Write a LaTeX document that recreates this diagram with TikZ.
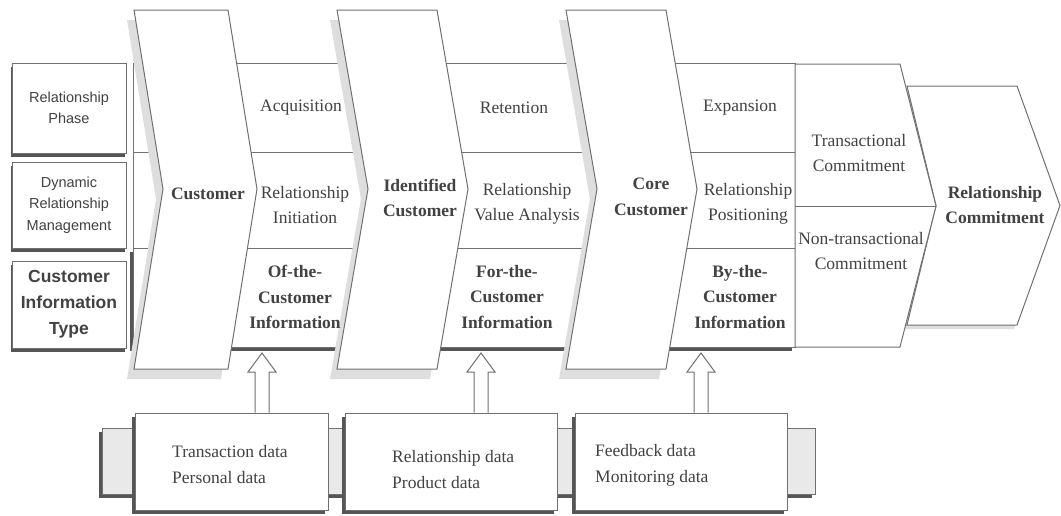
\documentclass[tikz,border=0pt]{standalone}
\usepackage{fontspec}
\setmainfont{Liberation Serif}
\setsansfont{Liberation Sans}
\usetikzlibrary{calc}

\definecolor{linegray}{RGB}{112,112,112}
\definecolor{textgray}{RGB}{66,66,66}
\definecolor{darkshade}{RGB}{85,85,85}
\definecolor{lightshade}{RGB}{222,222,222}
\definecolor{barfill}{RGB}{233,233,233}

\tikzset{
  outline/.style={draw=linegray, line width=1pt},
  chevshade/.style={preaction={fill=lightshade, draw=none, transform canvas={shift={(-7pt,-10pt)}}}},
  hardshadow/.style={preaction={fill=darkshade, draw=none, transform canvas={shift={(-3pt,-4pt)}}}},
  baseshadow/.style={preaction={fill=darkshade, draw=none, transform canvas={shift={(-1pt,-3.5pt)}}}},
  celltext/.style={text=textgray, align=center, inner sep=0pt, font=\fontsize{17.5}{25.5}\selectfont},
  chevtext/.style={celltext, font=\bfseries\fontsize{17.5}{25.5}\selectfont},
  labelbox/.style={outline, fill=white, baseshadow, text=textgray, align=center, minimum width=114pt, font=\sffamily\fontsize{14.5}{21.5}\selectfont},
  databox/.style={outline, fill=white, hardshadow, minimum height=97pt},
  datatext/.style={text=textgray, align=left, inner sep=0pt, anchor=west, font=\fontsize{17.5}{26}\selectfont},
  feedline/.style={outline, fill=white}
}

\begin{document}
\begin{tikzpicture}[x=1pt, y=-1pt]
\useasboundingbox (0,0) rectangle (1061,515);

% left labels
\node[labelbox, minimum height=90pt] (phase) at (69,108) {Relationship\\Phase};
\node[labelbox, minimum height=86pt] (drm) at (69,205) {Dynamic\\Relationship\\Management};
\node[labelbox, minimum height=87pt, font=\sffamily\bfseries\fontsize{17.5}{26}\selectfont] (cit) at (69,304.5) {Customer\\Information\\Type};

% rows
\draw[outline, fill=white] (133,63) rectangle (795,248);
\draw[outline] (133,152) -- (795,152);
\draw[outline, fill=white, hardshadow] (133,248) rectangle (795,347);

% commitment
\draw[outline, fill=white, preaction={fill=lightshade, draw=none, transform canvas={shift={(-3pt,-4pt)}}}] (907,86) -- (1017,86) -- (1060,205.5) -- (1017,325) -- (907,325) -- (936,205.5) -- cycle;
\draw[outline, fill=white] (795,64) -- (900,64) -- (936,206) -- (900,347) -- (795,347) -- cycle;
\draw[outline] (795,206) -- (936,206);

% chevrons
\draw[outline, fill=white, chevshade] (134,10) -- (228,10) -- (257,189) -- (228,369) -- (134,369) -- (163,189) -- cycle;
\draw[outline, fill=white, chevshade] (337,10) -- (437,10) -- (468,189) -- (437,369) -- (337,369) -- (368,189) -- cycle;
\draw[outline, fill=white, chevshade] (566,10) -- (666,10) -- (697,189) -- (666,369) -- (566,369) -- (597,189) -- cycle;

\node[chevtext] (cust) at (208,194) {Customer};
\node[chevtext] (idc) at (420,198) {Identified\\Customer};
\node[chevtext] (core) at (651,197) {Core\\Customer};
\node[chevtext] (relc) at (995,205) {Relationship\\Commitment};

\node[celltext] (acq) at (301,108) {Acquisition};
\node[celltext] (ret) at (514,108) {Retention};
\node[celltext] (exp) at (740,108) {Expansion};
\node[celltext] (ini) at (305,205) {Relationship\\Initiation};
\node[celltext] (rva) at (527,204) {Relationship\\Value Analysis};
\node[celltext] (pos) at (748,204) {Relationship\\Positioning};
\node[chevtext] (ofc) at (295,297) {Of-the-\\Customer\\Information};
\node[chevtext] (foc) at (507,297) {For-the-\\Customer\\Information};
\node[chevtext] (byc) at (740,297) {By-the-\\Customer\\Information};
\node[celltext] (tc) at (859,153) {Transactional\\Commitment};
\node[celltext] (ntc) at (861,251) {Non-transactional\\Commitment};

% data sources
\draw[outline, fill=barfill, hardshadow] (102,428) rectangle (815,494);
\node[databox, minimum width=193pt] (tbox) at (231.5,461.5) {};
\node[databox, minimum width=212pt] (rbox) at (451,461.5) {};
\node[databox, minimum width=212pt] (fbox) at (681,461.5) {};
\node[datatext] (tdata) at (172,465) {Transaction data\\Personal data};
\node[datatext] (rdata) at (392,469.5) {Relationship data\\Product data};
\node[datatext] (fdata) at (595,465) {Feedback data\\Monitoring data};

\coordinate (tipa) at (262,353);
\coordinate (tipb) at (481,353);
\coordinate (tipc) at (701,353);

\draw[feedline] let \p1=(tipa), \p2=(tbox.north) in (\x1-7pt,\y2) -- (\x1-7pt,\y1-19pt) -- (\x1-14pt,\y1-19pt) -- (\x1,\y1) -- (\x1+14pt,\y1-19pt) -- (\x1+7pt,\y1-19pt) -- (\x1+7pt,\y2);
\draw[feedline] let \p1=(tipb), \p2=(rbox.north) in (\x1-7pt,\y2) -- (\x1-7pt,\y1-19pt) -- (\x1-14pt,\y1-19pt) -- (\x1,\y1) -- (\x1+14pt,\y1-19pt) -- (\x1+7pt,\y1-19pt) -- (\x1+7pt,\y2);
\draw[feedline] let \p1=(tipc), \p2=(fbox.north) in (\x1-7pt,\y2) -- (\x1-7pt,\y1-19pt) -- (\x1-14pt,\y1-19pt) -- (\x1,\y1) -- (\x1+14pt,\y1-19pt) -- (\x1+7pt,\y1-19pt) -- (\x1+7pt,\y2);
\end{tikzpicture}
\end{document}
